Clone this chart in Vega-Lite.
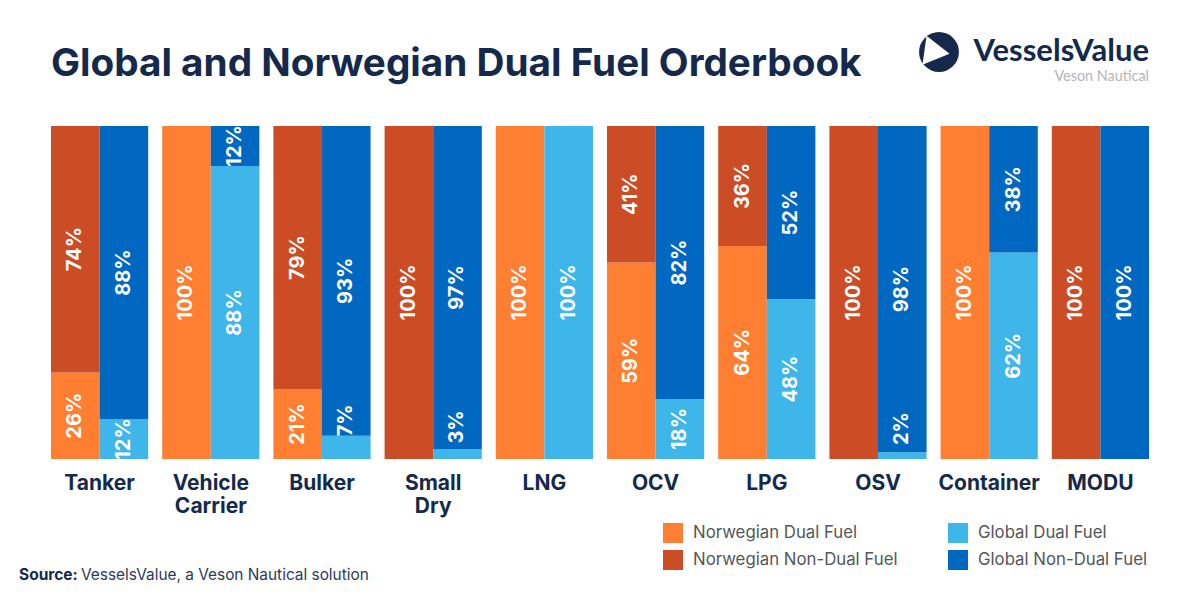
{
  "$schema": "https://vega.github.io/schema/vega-lite/v6.json",
  "width": 1098,
  "height": 333,
  "autosize": {"type": "none"},
  "padding": {"left": 51, "top": 126, "right": 51, "bottom": 141},
  "background": "#ffffff",
  "layer": [
    {
      "data": {
        "values": [
          {"category": "Tanker", "group": "Norwegian", "series": "Norwegian Dual Fuel", "share": 0.26},
          {"category": "Tanker", "group": "Norwegian", "series": "Norwegian Non-Dual Fuel", "share": 0.74},
          {"category": "Tanker", "group": "Global", "series": "Global Dual Fuel", "share": 0.12},
          {"category": "Tanker", "group": "Global", "series": "Global Non-Dual Fuel", "share": 0.88},
          {"category": "Vehicle Carrier", "group": "Norwegian", "series": "Norwegian Dual Fuel", "share": 1},
          {"category": "Vehicle Carrier", "group": "Global", "series": "Global Dual Fuel", "share": 0.88},
          {"category": "Vehicle Carrier", "group": "Global", "series": "Global Non-Dual Fuel", "share": 0.12},
          {"category": "Bulker", "group": "Norwegian", "series": "Norwegian Dual Fuel", "share": 0.21},
          {"category": "Bulker", "group": "Norwegian", "series": "Norwegian Non-Dual Fuel", "share": 0.79},
          {"category": "Bulker", "group": "Global", "series": "Global Dual Fuel", "share": 0.07},
          {"category": "Bulker", "group": "Global", "series": "Global Non-Dual Fuel", "share": 0.93},
          {"category": "Small Dry", "group": "Norwegian", "series": "Norwegian Non-Dual Fuel", "share": 1},
          {"category": "Small Dry", "group": "Global", "series": "Global Dual Fuel", "share": 0.03},
          {"category": "Small Dry", "group": "Global", "series": "Global Non-Dual Fuel", "share": 0.97},
          {"category": "LNG", "group": "Norwegian", "series": "Norwegian Dual Fuel", "share": 1},
          {"category": "LNG", "group": "Global", "series": "Global Dual Fuel", "share": 1},
          {"category": "OCV", "group": "Norwegian", "series": "Norwegian Dual Fuel", "share": 0.59},
          {"category": "OCV", "group": "Norwegian", "series": "Norwegian Non-Dual Fuel", "share": 0.41},
          {"category": "OCV", "group": "Global", "series": "Global Dual Fuel", "share": 0.18},
          {"category": "OCV", "group": "Global", "series": "Global Non-Dual Fuel", "share": 0.82},
          {"category": "LPG", "group": "Norwegian", "series": "Norwegian Dual Fuel", "share": 0.64},
          {"category": "LPG", "group": "Norwegian", "series": "Norwegian Non-Dual Fuel", "share": 0.36},
          {"category": "LPG", "group": "Global", "series": "Global Dual Fuel", "share": 0.48},
          {"category": "LPG", "group": "Global", "series": "Global Non-Dual Fuel", "share": 0.52},
          {"category": "OSV", "group": "Norwegian", "series": "Norwegian Non-Dual Fuel", "share": 1},
          {"category": "OSV", "group": "Global", "series": "Global Dual Fuel", "share": 0.02},
          {"category": "OSV", "group": "Global", "series": "Global Non-Dual Fuel", "share": 0.98},
          {"category": "Container", "group": "Norwegian", "series": "Norwegian Dual Fuel", "share": 1},
          {"category": "Container", "group": "Global", "series": "Global Dual Fuel", "share": 0.62},
          {"category": "Container", "group": "Global", "series": "Global Non-Dual Fuel", "share": 0.38},
          {"category": "MODU", "group": "Norwegian", "series": "Norwegian Non-Dual Fuel", "share": 1},
          {"category": "MODU", "group": "Global", "series": "Global Non-Dual Fuel", "share": 1}
        ]
      },
      "transform": [
        {
          "stack": "share",
          "groupby": ["category", "group"],
          "sort": [{"field": "series", "order": "ascending"}],
          "as": ["y0", "y1"]
        }
      ],
      "encoding": {
        "x": {
          "field": "category",
          "type": "nominal",
          "sort": null,
          "title": null,
          "scale": {"paddingInner": 0.126, "paddingOuter": 0},
          "axis": {
            "domain": false,
            "ticks": false,
            "labelAngle": 0,
            "labelFont": "Inter",
            "labelFontWeight": 700,
            "labelFontSize": 21,
            "labelColor": "#14294b",
            "labelPadding": 13,
            "labelLineHeight": 23,
            "labelExpr": "split(datum.label, ' ')"
          }
        },
        "xOffset": {
          "field": "group",
          "type": "nominal",
          "sort": null,
          "scale": {"domain": ["Norwegian", "Global"], "paddingInner": 0, "paddingOuter": 0}
        }
      },
      "layer": [
        {
          "mark": {"type": "bar"},
          "encoding": {
            "y": {
              "field": "y0",
              "type": "quantitative",
              "scale": {"domain": [0, 1], "nice": false},
              "axis": null
            },
            "y2": {"field": "y1"},
            "color": {
              "field": "series",
              "type": "nominal",
              "scale": {
                "domain": ["Norwegian Dual Fuel", "Norwegian Non-Dual Fuel", "Global Dual Fuel", "Global Non-Dual Fuel"],
                "range": ["#ff7f32", "#cc4c26", "#3fb6ea", "#0068c1"]
              },
              "legend": {
                "title": null,
                "orient": "none",
                "legendX": 612,
                "legendY": 397,
                "columns": 2,
                "columnPadding": 50,
                "rowPadding": 7,
                "symbolType": "square",
                "symbolSize": 400,
                "symbolStrokeWidth": 0,
                "symbolOpacity": 1,
                "labelFont": "Inter",
                "labelFontSize": 16.8,
                "labelColor": "#55565a",
                "labelOffset": 10,
                "labelLimit": 300
              }
            }
          }
        },
        {
          "transform": [{"fold": ["y0", "y1"], "as": ["edgeName", "edge"]}],
          "mark": {
            "type": "text",
            "angle": 270,
            "align": "center",
            "baseline": "middle",
            "font": "Inter",
            "fontWeight": 700,
            "fontSize": 20,
            "color": "#ffffff",
            "dx": {"expr": "datum.max_share < 0.1 ? 27 : 0"}
          },
          "encoding": {
            "y": {
              "aggregate": "mean",
              "field": "edge",
              "type": "quantitative",
              "scale": {"domain": [0, 1], "nice": false},
              "axis": null
            },
            "detail": {"field": "series"},
            "text": {"aggregate": "max", "field": "share", "type": "quantitative", "format": ".0%"}
          }
        }
      ]
    },
    {
      "data": {"values": [{}]},
      "layer": [
        {
          "mark": {"type": "text", "align": "left", "baseline": "alphabetic", "font": "Inter", "fontWeight": 700, "fontSize": 38.7, "color": "#14294b", "text": "Global and Norwegian Dual Fuel Orderbook"},
          "encoding": {
            "x": {"datum": 51},
            "y": {"datum": 76}
          }
        },
        {
          "mark": {"type": "point", "shape": "circle", "filled": true, "opacity": 1, "size": 1590, "color": "#14294b"},
          "encoding": {
            "x": {"datum": 939},
            "y": {"datum": 52}
          }
        },
        {
          "mark": {"type": "point", "shape": "triangle-up", "filled": true, "opacity": 1, "size": 850, "angle": 98, "color": "#ffffff"},
          "encoding": {
            "x": {"datum": 937},
            "y": {"datum": 52}
          }
        },
        {
          "mark": {"type": "text", "align": "right", "baseline": "alphabetic", "font": "Lato", "fontWeight": 700, "fontSize": 31, "color": "#14294b", "text": "VesselsValue"},
          "encoding": {
            "x": {"datum": 1149},
            "y": {"datum": 61}
          }
        },
        {
          "mark": {"type": "text", "align": "right", "baseline": "alphabetic", "font": "Lato", "fontSize": 14.4, "color": "#b5b5b8", "text": "Veson Nautical"},
          "encoding": {
            "x": {"datum": 1149},
            "y": {"datum": 81}
          }
        },
        {
          "mark": {"type": "text", "align": "left", "baseline": "alphabetic", "font": "Inter", "fontWeight": 700, "fontSize": 15.5, "color": "#14294b", "text": "Source:"},
          "encoding": {
            "x": {"datum": 19},
            "y": {"datum": 580}
          }
        },
        {
          "mark": {"type": "text", "align": "left", "baseline": "alphabetic", "font": "Inter", "fontSize": 15.4, "color": "#2d3a55", "text": "VesselsValue, a Veson Nautical solution"},
          "encoding": {
            "x": {"datum": 81},
            "y": {"datum": 580}
          }
        }
      ],
      "encoding": {
        "x": {
          "type": "quantitative",
          "scale": {"domain": [0, 1200], "range": [-51, 1149], "nice": false, "zero": false},
          "axis": null
        },
        "y": {
          "type": "quantitative",
          "scale": {"domain": [0, 600], "range": [-126, 474], "nice": false, "zero": false},
          "axis": null
        }
      }
    }
  ],
  "resolve": {"scale": {"x": "independent", "y": "independent"}},
  "config": {"view": {"stroke": null}}
}
